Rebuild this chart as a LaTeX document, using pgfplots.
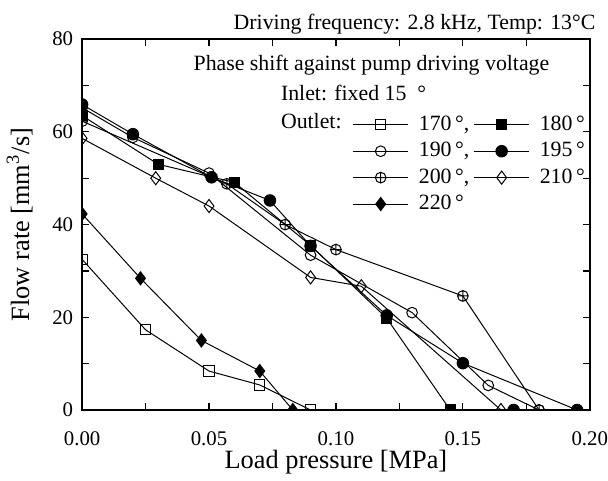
\documentclass[border=0pt]{standalone}
\usepackage{fontspec}
\setmainfont{Liberation Serif}
\usepackage{pgfplots}
\pgfplotsset{compat=1.18}

\begin{document}
\begin{tikzpicture}
\begin{axis}[
  name=ax,
  scale only axis, width=256pt, height=187pt,
  xmin=0, xmax=0.2, ymin=0, ymax=80,
  xtick={0,0.05,...,0.2}, minor xtick={0.025,0.075,...,0.2},
  ytick={0,20,...,80}, minor ytick={10,30,...,70},
  tick align=inside, major tick length=3.5pt, minor tick length=3.5pt,
  every tick/.style={black, line width=0.6pt},
  axis line style={line width=0.9pt},
  x tick label style={yshift=-7.5pt, inner xsep=0pt, /pgf/number format/.cd, fixed, fixed zerofill, precision=2, assume math mode=true},
  y tick label style={xshift=-1pt, /pgf/number format/assume math mode=true},
  tick label style={font=\fontsize{10.5}{12}\selectfont},
  scaled x ticks=false,
  xlabel={Load pressure [MPa]}, ylabel={Flow rate [mm\textsuperscript{3}/s]},
  label style={font=\fontsize{13.3}{15}\selectfont},
  xlabel style={yshift=5pt}, ylabel style={yshift=3pt},
  title={Driving frequency: 2.8 kHz, Temp: 13°C},
  title style={font=\fontsize{11}{13}\selectfont, at={(rel axis cs:1,1)}, anchor=base east,
    inner xsep=0pt, inner ysep=7pt, xshift=3pt, yshift=-1pt},
  clip marker paths=true,
  every axis plot/.append style={black, line width=0.5pt},
  legend columns=2,
  legend cell align=left,
  legend style={draw=none, fill=none, at={(rel axis cs:0.52,0.815)}, anchor=north west,
    font=\fontsize{11}{13}\selectfont, row sep=0.5pt,
    /tikz/every odd column/.append style={column sep=3pt}},
  legend image code/.code={\draw[mark repeat=2,mark phase=2,#1] plot coordinates {(0pt,0pt) (14pt,0pt) (28pt,0pt)};},
]
% 170
\addplot[mark=square, mark size=2.6pt, mark options={fill=white, solid}] coordinates {
(0,32.5) (0.025,17.3) (0.05,8.4) (0.07,5.4) (0.09,0)};
\addlegendentry{170\,°,}
% 180
\addplot[mark=square*, mark size=2.6pt] coordinates {
(0,63.5) (0.03,53) (0.06,49.1) (0.09,35.5) (0.12,19.8) (0.145,0)};
\addlegendentry{180\,°}
% 190
\addplot[mark=o, mark size=2.7pt, mark options={fill=white}] coordinates {
(0,65.2) (0.02,58.8) (0.05,51.1) (0.09,33.4) (0.13,21) (0.16,5.3) (0.18,0)};
\addlegendentry{190\,°,}
% 195
\addplot[mark=*, mark size=2.9pt] coordinates {
(0,65.9) (0.02,59.5) (0.051,50.2) (0.074,45.2) (0.09,35.4) (0.12,20.4) (0.15,10.1) (0.195,0)};
\addlegendentry{195\,°}
% 200
\addplot[mark=oplus, mark size=2.7pt, mark options={fill=white}] coordinates {
(0,62.3) (0.057,48.8) (0.08,40) (0.1,34.6) (0.15,24.6) (0.18,0)};
\addlegendentry{200\,°,}
% 210
\addplot[mark=diamond, mark size=3.3pt, mark options={fill=white}] coordinates {
(0,58.6) (0.029,50) (0.05,44) (0.09,28.6) (0.11,26.7) (0.165,0)};
\addlegendentry{210\,°}
% 220
\addplot[mark=diamond*, mark size=3.3pt] coordinates {
(0,42.3) (0.023,28.4) (0.047,15) (0.07,8.4) (0.083,0)};
\addlegendentry{220\,°}
\addplot[only marks, mark=*, mark size=2.9pt, forget plot] coordinates {(0.17,0)};

\node[font=\fontsize{11}{13}\selectfont] at (rel axis cs:0.57,0.93) {Phase shift against pump driving voltage};
\node[font=\fontsize{11}{13}\selectfont, anchor=west] at (rel axis cs:0.378,0.856) {Inlet: fixed 15\ \ °};
\node[font=\fontsize{11}{13}\selectfont, anchor=west] at (rel axis cs:0.378,0.778) {Outlet:};
\end{axis}
\end{tikzpicture}
\end{document}
